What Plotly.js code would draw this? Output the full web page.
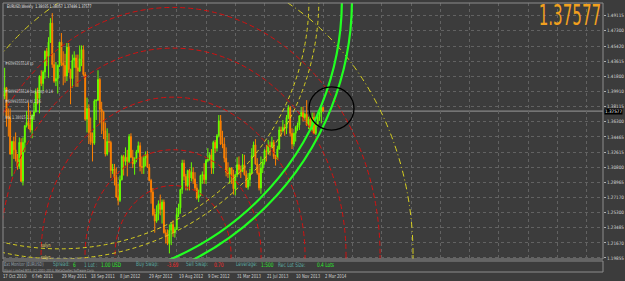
<!DOCTYPE html>
<html><head><meta charset="utf-8">
<script src="https://cdn.plot.ly/plotly-3.0.1.min.js"></script>
<style>html,body{margin:0;padding:0;background:#3c3c3c;}#chart{width:625px;height:281px;}</style>
</head><body><div id="chart"></div><script>
// ---------- DATA ----------
const weekDates = ['2010-10-17','2010-10-24','2010-10-31','2010-11-07','2010-11-14','2010-11-21','2010-11-28','2010-12-05','2010-12-12','2010-12-19','2010-12-26',
'2011-01-02','2011-01-09','2011-01-16','2011-01-23','2011-01-30','2011-02-06','2011-02-13','2011-02-20','2011-02-27','2011-03-06','2011-03-13','2011-03-20','2011-03-27','2011-04-03','2011-04-10','2011-04-17','2011-04-24','2011-05-01','2011-05-08','2011-05-15','2011-05-22','2011-05-29','2011-06-05','2011-06-12','2011-06-19','2011-06-26','2011-07-03','2011-07-10','2011-07-17','2011-07-24','2011-07-31','2011-08-07','2011-08-14','2011-08-21','2011-08-28','2011-09-04','2011-09-11','2011-09-18','2011-09-25','2011-10-02','2011-10-09','2011-10-16','2011-10-23','2011-10-30','2011-11-06','2011-11-13','2011-11-20','2011-11-27','2011-12-04','2011-12-11','2011-12-18','2011-12-25',
'2012-01-01','2012-01-08','2012-01-15','2012-01-22','2012-01-29','2012-02-05','2012-02-12','2012-02-19','2012-02-26','2012-03-04','2012-03-11','2012-03-18','2012-03-25','2012-04-01','2012-04-08','2012-04-15','2012-04-22','2012-04-29','2012-05-06','2012-05-13','2012-05-20','2012-05-27','2012-06-03','2012-06-10','2012-06-17','2012-06-24','2012-07-01','2012-07-08','2012-07-15','2012-07-22','2012-07-29','2012-08-05','2012-08-12','2012-08-19','2012-08-26','2012-09-02','2012-09-09','2012-09-16','2012-09-23','2012-09-30','2012-10-07','2012-10-14','2012-10-21','2012-10-28','2012-11-04','2012-11-11','2012-11-18','2012-11-25','2012-12-02','2012-12-09','2012-12-16','2012-12-23','2012-12-30',
'2013-01-06','2013-01-13','2013-01-20','2013-01-27','2013-02-03','2013-02-10','2013-02-17','2013-02-24','2013-03-03','2013-03-10','2013-03-17','2013-03-24','2013-03-31','2013-04-07','2013-04-14','2013-04-21','2013-04-28','2013-05-05','2013-05-12','2013-05-19','2013-05-26','2013-06-02','2013-06-09','2013-06-16','2013-06-23','2013-06-30','2013-07-07','2013-07-14','2013-07-21','2013-07-28','2013-08-04','2013-08-11','2013-08-18','2013-08-25','2013-09-01','2013-09-08','2013-09-15','2013-09-22','2013-09-29','2013-10-06','2013-10-13','2013-10-20','2013-10-27','2013-11-03','2013-11-10','2013-11-17','2013-11-24','2013-12-01','2013-12-08','2013-12-15','2013-12-22','2013-12-29',
'2014-01-05','2014-01-12','2014-01-19','2014-01-26','2014-02-02','2014-02-09','2014-02-16','2014-02-23','2014-03-02'];

const openP = [1.3960,1.3955,1.3940,1.4040,1.3690,1.3680,1.3240,1.3390,1.3290,1.3180,1.3090,
1.3380,1.2910,1.3380,1.3580,1.3620,1.3590,1.3530,1.3700,1.3750,1.3990,1.3910,1.4180,1.4090,1.4230,1.4480,1.4420,1.4590,1.4820,1.4320,1.4120,1.4150,1.4310,1.4590,1.4340,1.4310,1.4180,1.4530,1.4260,1.4150,1.4370,1.4400,1.4280,1.4240,1.4390,1.4500,1.4200,1.3660,1.3790,1.3500,1.3390,1.3370,1.3880,1.3890,1.4140,1.3780,1.3750,1.3520,1.3240,1.3390,1.3380,1.3040,1.3060,
1.2960,1.2720,1.2680,1.2930,1.3210,1.3150,1.3200,1.3150,1.3450,1.3200,1.3120,1.3170,1.3270,1.3340,1.3090,1.3080,1.3190,1.3240,1.3080,1.2920,1.2780,1.2510,1.2430,1.2520,1.2640,1.2570,1.2660,1.2290,1.2240,1.2160,1.2320,1.2390,1.2290,1.2330,1.2510,1.2590,1.2810,1.3130,1.2970,1.2860,1.3040,1.2950,1.3020,1.2940,1.2830,1.2710,1.2740,1.2980,1.2990,1.2930,1.3160,1.3180,1.3230,
1.3070,1.3380,1.3310,1.3460,1.3640,1.3360,1.3360,1.3190,1.3020,1.3000,1.3070,1.2990,1.2820,1.2990,1.3110,1.3050,1.3030,1.3110,1.2990,1.2840,1.2930,1.3010,1.3220,1.3350,1.3120,1.3010,1.2830,1.3070,1.3140,1.3280,1.3270,1.3340,1.3330,1.3380,1.3210,1.3180,1.3300,1.3530,1.3520,1.3560,1.3550,1.3680,1.3800,1.3490,1.3360,1.3490,1.3560,1.3590,1.3700,1.3740,1.3680,1.3720,
1.3590,1.3660,1.3540,1.3680,1.3490,1.3600,1.3690,1.3740,1.38035];

const highP = [1.4030,1.4000,1.4280,1.4050,1.3790,1.3790,1.3400,1.3450,1.3500,1.3240,1.3440,
1.3430,1.3440,1.3590,1.3760,1.3860,1.3760,1.3720,1.3860,1.4030,1.4040,1.4190,1.4250,1.4250,1.4490,1.4520,1.4650,1.4880,1.4940,1.4460,1.4350,1.4320,1.4590,1.4700,1.4480,1.4450,1.4580,1.4580,1.4270,1.4440,1.4480,1.4440,1.4440,1.4550,1.4550,1.4550,1.4230,1.3920,1.3840,1.3680,1.3500,1.3900,1.3900,1.4250,1.4160,1.3870,1.3760,1.3620,1.3550,1.3490,1.3400,1.3120,1.3120,
1.3080,1.2880,1.2980,1.3230,1.3230,1.3320,1.3290,1.3480,1.3490,1.3290,1.3200,1.3290,1.3390,1.3380,1.3210,1.3220,1.3270,1.3280,1.3120,1.2940,1.2830,1.2580,1.2620,1.2680,1.2750,1.2690,1.2690,1.2330,1.2330,1.2390,1.2410,1.2440,1.2360,1.2590,1.2640,1.2820,1.3170,1.3170,1.3000,1.3050,1.3060,1.3140,1.3080,1.3020,1.2880,1.2810,1.2990,1.3030,1.3130,1.3180,1.3310,1.3260,1.3300,
1.3400,1.3410,1.3480,1.3710,1.3710,1.3520,1.3440,1.3320,1.3140,1.3080,1.3080,1.3050,1.3000,1.3200,1.3210,1.3100,1.3240,1.3230,1.3040,1.3010,1.3060,1.3310,1.3390,1.3420,1.3190,1.3110,1.3210,1.3180,1.3300,1.3350,1.3410,1.3390,1.3450,1.3410,1.3230,1.3340,1.3570,1.3570,1.3650,1.3600,1.3710,1.3830,1.3820,1.3550,1.3500,1.3580,1.3620,1.3710,1.3810,1.3810,1.3740,1.3890,
1.3690,1.3700,1.3740,1.3740,1.3620,1.3710,1.3770,1.3830,1.38057];

const lowP = [1.3800,1.3700,1.3900,1.3570,1.3450,1.3230,1.2970,1.3180,1.3150,1.3050,1.3060,
1.2900,1.2860,1.3260,1.3560,1.3540,1.3500,1.3430,1.3650,1.3740,1.3840,1.3730,1.4060,1.4000,1.4150,1.4300,1.4160,1.4580,1.4280,1.4100,1.4060,1.3970,1.4290,1.4300,1.4070,1.4100,1.4120,1.4220,1.3840,1.4040,1.4280,1.4050,1.4050,1.4230,1.4300,1.4180,1.3640,1.3500,1.3360,1.3350,1.3150,1.3350,1.3650,1.3880,1.3610,1.3480,1.3420,1.3210,1.3220,1.3260,1.2950,1.3000,1.2860,
1.2710,1.2620,1.2660,1.2920,1.2980,1.3100,1.2970,1.3130,1.3190,1.3070,1.2990,1.3140,1.3250,1.3030,1.3000,1.3000,1.3090,1.3070,1.2910,1.2640,1.2490,1.2290,1.2410,1.2440,1.2500,1.2400,1.2280,1.2160,1.2140,1.2040,1.2140,1.2240,1.2230,1.2320,1.2480,1.2520,1.2760,1.2920,1.2800,1.2800,1.2800,1.2910,1.2880,1.2800,1.2690,1.2660,1.2730,1.2880,1.2880,1.2880,1.3140,1.3160,1.3000,
1.3000,1.3250,1.3270,1.3440,1.3350,1.3310,1.3140,1.2970,1.2950,1.2880,1.2880,1.2750,1.2740,1.2960,1.2990,1.2950,1.3020,1.2980,1.2830,1.2810,1.2850,1.3000,1.3210,1.3110,1.2990,1.2800,1.2760,1.3010,1.3110,1.3150,1.3230,1.3220,1.3310,1.3180,1.3100,1.3170,1.3290,1.3450,1.3500,1.3460,1.3480,1.3660,1.3450,1.3300,1.3330,1.3390,1.3520,1.3530,1.3690,1.3630,1.3640,1.3580,
1.3540,1.3530,1.3510,1.3480,1.3470,1.3570,1.3640,1.3610,1.37486];

const closeP = [1.3955,1.3940,1.4040,1.3690,1.3680,1.3240,1.3390,1.3290,1.3180,1.3090,1.3380,
1.2910,1.3380,1.3580,1.3620,1.3590,1.3530,1.3700,1.3750,1.3990,1.3910,1.4180,1.4090,1.4230,1.4480,1.4420,1.4590,1.4820,1.4320,1.4120,1.4150,1.4310,1.4590,1.4340,1.4310,1.4180,1.4530,1.4260,1.4150,1.4370,1.4400,1.4280,1.4240,1.4390,1.4500,1.4200,1.3660,1.3790,1.3500,1.3390,1.3370,1.3880,1.3890,1.4140,1.3780,1.3750,1.3520,1.3240,1.3390,1.3380,1.3040,1.3060,1.2960,
1.2720,1.2680,1.2930,1.3210,1.3150,1.3200,1.3150,1.3450,1.3200,1.3120,1.3170,1.3270,1.3340,1.3090,1.3080,1.3190,1.3240,1.3080,1.2920,1.2780,1.2510,1.2430,1.2520,1.2640,1.2570,1.2660,1.2290,1.2240,1.2160,1.2320,1.2390,1.2290,1.2330,1.2510,1.2590,1.2810,1.3130,1.2970,1.2860,1.3040,1.2950,1.3020,1.2940,1.2830,1.2710,1.2740,1.2980,1.2990,1.2930,1.3160,1.3180,1.3230,1.3070,
1.3380,1.3310,1.3460,1.3640,1.3360,1.3360,1.3190,1.3020,1.3000,1.3070,1.2990,1.2820,1.2990,1.3110,1.3050,1.3030,1.3110,1.2990,1.2840,1.2930,1.3010,1.3220,1.3350,1.3120,1.3010,1.2830,1.3070,1.3140,1.3280,1.3270,1.3340,1.3330,1.3380,1.3210,1.3180,1.3300,1.3530,1.3520,1.3560,1.3550,1.3680,1.3800,1.3490,1.3360,1.3490,1.3560,1.3590,1.3700,1.3740,1.3680,1.3720,1.3590,
1.3660,1.3540,1.3680,1.3490,1.3600,1.3690,1.3740,1.3800,1.37577];

const currentPrice = 1.37577;
const priceTickVals = [1.49115,1.47300,1.45420,1.43615,1.41800,1.39910,1.38115,1.36300,1.34465,1.32615,1.30800,1.28965,1.27170,1.25300,1.23485,1.21670,1.19855];
const priceTickText = ['1.49115','1.47300','1.45420','1.43615','1.41800','1.39910','1.38115','1.36300','1.34465','1.32615','1.30800','1.28965','1.27170','1.25300','1.23485','1.21670','1.19855'];
const gridDates = ['2010-10-17','2011-02-06','2011-05-29','2011-09-18','2012-01-08','2012-04-29','2012-08-19','2012-12-09','2013-03-31','2013-07-21','2013-11-10','2014-03-02','2014-06-22','2014-10-12','2015-02-01','2015-05-24','2015-09-13','2016-01-03','2016-04-24','2016-08-14','2016-12-04'];
const dateLabelText = ['17 Oct 2010','6 Feb 2011','29 May 2011','18 Sep 2011','8 Jan 2012','29 Apr 2012','19 Aug 2012','9 Dec 2012','31 Mar 2013','21 Jul 2013','10 Nov 2013','2 Mar 2014'];
const subTickText = ['9000000','-9000000'];

// Drawn objects: Fibonacci arcs (centre date, centre price, radius in weeks, radius in price)
const greenArcCenter = ['2011-05-30', 1.5100];
const greenArcRadiiW = [154.1, 159.6];
const greenArcRadiiP = [0.3404, 0.3524];
const yellowArcCenter = ['2011-05-30', 1.5100];
const yellowArcRadiiW = [136.1, 141.5];
const yellowArcRadiiP = [0.3005, 0.3126];
const lowArcCenter = ['2012-08-05', 1.2021];
const yellowBigRadiusW = [131.1];
const yellowBigRadiusP = [0.3464];
const redArcRadiiW = [31.7, 48.1, 72.1, 94.5, 113.1];
const redArcRadiiP = [0.0838, 0.1270, 0.1905, 0.2497, 0.2988];
const markCircle = ['2014-04-03', 1.3789, 12.3, 0.0260];

// ---------- LAYOUT HELPERS ----------
const W = 7*864e5;
const base = Date.UTC(2010,9,17);
function fmt(ms){ return new Date(ms).toISOString().replace('T',' ').slice(0,19); }
const xr0 = base + 1.093*W, xr1 = base + 328.9*W;
function circ(cDate, cPrice, rW, rP, line){
  const c = Date.parse(cDate+'T00:00:00Z');
  return {type:'circle', xref:'x', yref:'y', x0:fmt(c-rW*W), x1:fmt(c+rW*W), y0:cPrice-rP, y1:cPrice+rP,
          line:line, fillcolor:'rgba(0,0,0,0)', layer:'above'};
}
const shapes = [];
shapes.push({type:'line', xref:'paper', yref:'y', x0:0, x1:1, y0:currentPrice, y1:currentPrice, line:{color:'#9a9a9a', width:1}, layer:'below'});
redArcRadiiW.forEach((r,i)=>shapes.push(circ(lowArcCenter[0], lowArcCenter[1], r, redArcRadiiP[i], {color:'#d41010', width:1, dash:'5px,3px'})));
yellowArcRadiiW.forEach((r,i)=>shapes.push(circ(yellowArcCenter[0], yellowArcCenter[1], r, yellowArcRadiiP[i], {color:'#d8d020', width:1, dash:'4px,3px'})));
shapes.push(circ(lowArcCenter[0], lowArcCenter[1], yellowBigRadiusW[0], yellowBigRadiusP[0], {color:'#d8d020', width:1, dash:'6px,3px,1px,3px'}));
greenArcRadiiW.forEach((r,i)=>shapes.push(circ(greenArcCenter[0], greenArcCenter[1], r, greenArcRadiiP[i], {color:'#22ff22', width:2.2})));
shapes.push(circ(markCircle[0], markCircle[1], markCircle[2], markCircle[3], {color:'#000000', width:1.3}));
const mainDom = [0.0483, 1], subDom = [0, 0.0409];
shapes.push({type:'rect', xref:'paper', yref:'paper', x0:0, x1:1, y0:mainDom[0], y1:mainDom[1], line:{color:'#8c8c8c', width:1}});
shapes.push({type:'rect', xref:'paper', yref:'paper', x0:0, x1:1, y0:subDom[0], y1:subDom[1], line:{color:'#8c8c8c', width:1}});

const PW = 600, PH = 269;
const px = v => (v-3)/PW;
const py = v => (272-v)/PH;
const NAR = 'DejaVu Sans Condensed, Liberation Sans, sans-serif';
const SQ = 0.77;           // horizontal squeeze of the screenshot's small text
const ann = [];
function txt(x, y, text, color, size){
  ann.push({xref:'paper', yref:'paper', x:px(x), y:py(y), text:text, showarrow:false, xanchor:'left', yanchor:'middle',
    font:{family:NAR, size:size/SQ, color:color}, borderpad:0});
}
dateLabelText.forEach((t,i)=>{
  const ms = Date.parse(gridDates[i]+'T00:00:00Z');
  const frac = (ms - xr0)/(xr1 - xr0);
  ann.push({xref:'paper', yref:'paper', x:frac, y:py(276), text:t, showarrow:false, xanchor:'left', yanchor:'middle', xshift:0,
    font:{family:NAR, size:4.2/SQ, color:'#d0d0d0'}});
});
txt(6, 6, 'EURUSD,Weekly  1.38035 1.38057 1.37486 1.37577', '#e8e8e8', 3.6);
ann.push({xref:'paper', yref:'paper', x:px(603), y:py(15.5), text:'1.37577', showarrow:false, xanchor:'right', yanchor:'middle',
  font:{family:NAR, size:28, color:'#f2a01e'}});
ann.push({xref:'paper', yref:'y', x:1, y:currentPrice, text:'1.37577', showarrow:false, xanchor:'left', yanchor:'middle', xshift:1,
  bgcolor:'#000000', font:{family:NAR, size:4.6, color:'#ffffff'}, borderpad:0});
txt(4, 64, '#6099355514 tp', '#d8d8d8', 3.7);
txt(4, 92, '#6099355514 buy stop 0.14', '#d8d8d8', 3.7);
txt(4, 102, '#6099355514 sl 1.36', '#d8d8d8', 3.7);
txt(4, 117, 'Ask 1.38015 1.37', '#d8d8d8', 3.7);
txt(40, 245, 'salyn', '#e8d870', 4);
txt(40, 257, 'salyn', '#e8d870', 4);
const lab = '#5aa8a0', grn = '#2ee82e', red = '#ff2a2a';
const L1 = 264, L2 = 270;
txt(3, L1, 'Ext Monitor (EURUSD)', '#9aa4b0', 4.0);
txt(52, L1, 'Spread:', lab, 4.8); txt(72, L1, '6', grn, 4.8);
txt(83, L1, '1 Lot :', lab, 4.8); txt(100, L1, '1.00 USD', grn, 4.8);
txt(135, L1, 'Buy Swap:', lab, 4.8); txt(166, L1, '-3.69', red, 4.8);
txt(185, L1, 'Sell Swap:', lab, 4.8); txt(213, L1, '0.70', red, 4.8);
txt(235, L1, 'Leverage:', lab, 4.8); txt(260, L1, '1:500', grn, 4.8);
txt(277, L1, 'Rec Lot Size:', lab, 4.8); txt(316, L1, '0.4 Lots', grn, 4.8);
txt(3, L2, 'Alpari Limited MT4, (C) 2001-2014, MetaQuotes Software Corp.', '#a8a8a8', 3.2);

const trace = {
  type:'candlestick', x:weekDates, open:openP, high:highP, low:lowP, close:closeP,
  xaxis:'x', yaxis:'y',
  increasing:{line:{color:'#66ff00', width:1}, fillcolor:'#66ff00'},
  decreasing:{line:{color:'#ff8000', width:1}, fillcolor:'#ff8000'},
  whiskerwidth:0, hoverinfo:'skip'
};

const layout = {
  width:625, height:281, paper_bgcolor:'#3c3c3c', plot_bgcolor:'#3c3c3c',
  margin:{l:3, r:22, t:3, b:9}, showlegend:false, annotations:ann, shapes:shapes,
  xaxis:{type:'date', range:[fmt(xr0), fmt(xr1)], anchor:'y2', tickvals:gridDates, showticklabels:false, ticks:'',
    showgrid:true, gridcolor:'#626262', griddash:'dot', gridwidth:1, zeroline:false, showline:false,
    rangeslider:{visible:false}, fixedrange:true},
  yaxis:{domain:mainDom, range:[1.19725, 1.50624], side:'right', anchor:'x', tickvals:priceTickVals, ticktext:priceTickText,
    ticks:'outside', ticklen:2, tickcolor:'#b0b0b0', tickfont:{family:NAR, size:4.6, color:'#d8d8d8'},
    showgrid:true, gridcolor:'#626262', griddash:'dot', zeroline:false, showline:false, fixedrange:true},
  yaxis2:{domain:subDom, range:[-1,1], side:'right', anchor:'x', tickvals:[0.55,-0.55], ticktext:subTickText,
    ticks:'outside', ticklen:2, tickcolor:'#b0b0b0', tickfont:{family:NAR, size:4, color:'#d8d8d8'},
    showgrid:false, zeroline:false, showline:false, fixedrange:true}
};
Plotly.newPlot('chart', [trace], layout, {staticPlot:true, displayModeBar:false}).then(gd=>{
  gd.querySelectorAll('.annotation').forEach(g=>{
    const t = g.querySelector('text');
    if (!t) return;
    const fs = parseFloat(t.style.fontSize);
    if (fs > 20) {
      t.style.transformBox = 'fill-box';
      t.style.transformOrigin = 'right center';
      t.style.transform = 'scaleX(0.6)';
    } else if (t.textContent !== '1.37577') {
      t.style.transformBox = 'fill-box';
      t.style.transformOrigin = 'left center';
      t.style.transform = 'scaleX(' + SQ + ')';
    }
  });
});
</script></body></html>
